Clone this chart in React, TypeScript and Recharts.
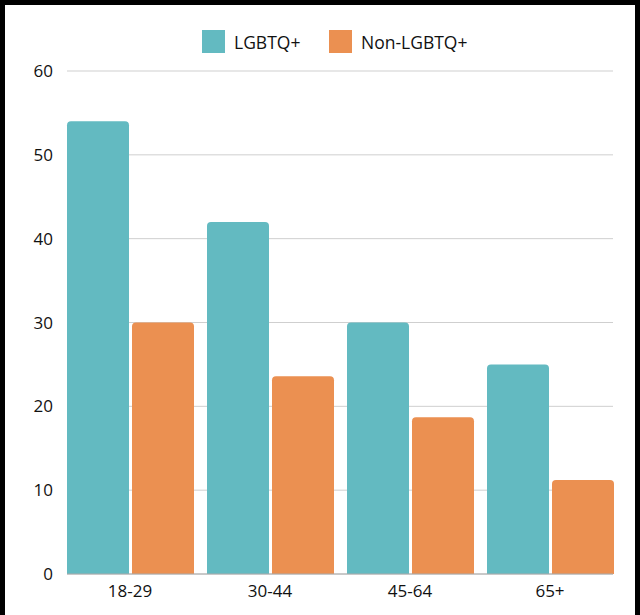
import React from 'react';
import { BarChart, Bar, XAxis, YAxis, CartesianGrid, Legend } from 'recharts';

const AGE_GROUPS = ['18-29', '30-44', '45-64', '65+'];
const LGBTQ_VALUES = [54, 42, 30, 25];
const NON_LGBTQ_VALUES = [30, 23.6, 18.7, 11.2];
const Y_TICKS = [0, 10, 20, 30, 40, 50, 60];

const TEAL = '#63bac1';
const ORANGE = '#eb9051';
const FONT = '"Open Sans", sans-serif';

const data = AGE_GROUPS.map((age, i) => ({
  age,
  lgbtq: LGBTQ_VALUES[i],
  nonLgbtq: NON_LGBTQ_VALUES[i],
}));

const legendItems = [
  { label: 'LGBTQ+', color: TEAL, width: 127 },
  { label: 'Non-LGBTQ+', color: ORANGE, width: 160 },
];

// legend drawn by hand so the squares land where the reference has them
const renderLegend = () => (
  <div style={{ width: 630, height: 46, display: 'flex', paddingLeft: 197, boxSizing: 'border-box' }}>
    {legendItems.map((item) => (
      <div key={item.label} style={{ width: item.width, display: 'flex', alignItems: 'center', height: 23, marginTop: 5 }}>
        <div style={{ width: 23, height: 23, background: item.color }} />
        <span style={{ marginLeft: 9, fontFamily: FONT, fontSize: 17.5, color: '#111' }}>{item.label}</span>
      </div>
    ))}
  </div>
);

const App: React.FC = () => {
  return (
    <div
      style={{
        position: 'fixed',
        top: 0,
        left: 0,
        width: 640,
        height: 615,
        boxSizing: 'border-box',
        border: '5px solid #000',
        borderBottom: 'none',
        background: '#fff',
      }}
    >
      <BarChart
        width={630}
        height={610}
        data={data}
        margin={{ top: 20, right: 22, bottom: 11, left: 0 }}
        barCategoryGap={7}
        barGap={3}
      >
        <CartesianGrid vertical={false} stroke="#cfcfcf" />
        <Legend
          verticalAlign="top"
          content={renderLegend}
          wrapperStyle={{ left: 0, top: 20, width: 630 }}
        />
        <XAxis
          dataKey="age"
          padding={{ left: -7, right: -7 }}
          tickLine={false}
          tickSize={0}
          tickMargin={11}
          stroke="#aaaaaa"
          tick={{ fill: '#111', fontSize: 17, fontFamily: FONT }}
        />
        <YAxis
          width={62}
          domain={[0, 60]}
          ticks={Y_TICKS}
          axisLine={false}
          tickLine={false}
          tickSize={0}
          tickMargin={14}
          tick={{ fill: '#111', fontSize: 17, fontFamily: FONT }}
        />
        <Bar dataKey="lgbtq" name="LGBTQ+" fill={TEAL} radius={[4, 4, 0, 0]} isAnimationActive={false} />
        <Bar dataKey="nonLgbtq" name="Non-LGBTQ+" fill={ORANGE} radius={[4, 4, 0, 0]} isAnimationActive={false} />
      </BarChart>
    </div>
  );
};

export default App;
